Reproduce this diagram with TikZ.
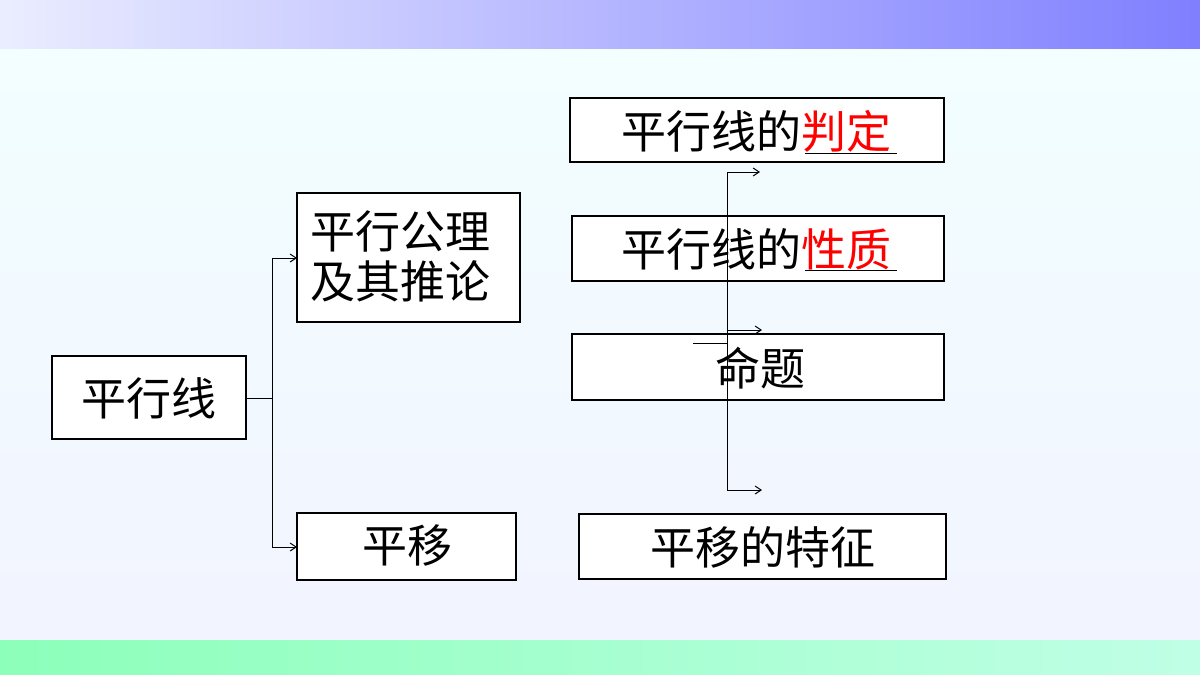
\documentclass[tikz,border=0pt]{standalone}
\usepackage{fontspec}
\setmainfont{Noto Sans CJK SC}
\begin{document}
\begin{tikzpicture}[x=1pt,y=-1pt,
 bx/.style={draw=black,line width=1.2pt,fill=white},
 tx/.style={font=\fontsize{45}{48}\selectfont,inner sep=0pt,anchor=center},
 ln/.style={line width=1pt},
 ar/.style={line width=1pt,-{Straight Barb[length=6pt,width=8pt]}}]
\usetikzlibrary{arrows.meta}
\useasboundingbox (0,0) rectangle (1200,675);
\fill[top color=cyan!5!white,bottom color=cyan!12!blue!5] (0,0) rectangle (1200,675);
\shade[left color=cyan!10!blue!8,right color=blue!50] (0,0) rectangle (1200,48);
\shade[left color=green!60!cyan!45,right color=green!40!cyan!25] (0,640) rectangle (1200,675);
% boxes
\draw[bx] (52,356) rectangle (246,439); \node[tx] (a) at (149,398) {平行线};
\draw[bx] (297,193) rectangle (520,322);
\node[tx,align=left] (b) at (400,256) {平行公理\\[2pt]及其推论};
\draw[bx] (297,513) rectangle (516,580); \node[tx] (c) at (407,545) {平移};
\draw[bx] (570,98) rectangle (944,162);
\node[tx] (d) at (756,131) {平行线的\textcolor{red}{判定}};
\draw[bx] (572,216) rectangle (944,281);
\node[tx] (e) at (756,249) {平行线的\textcolor{red}{性质}};
\draw[bx] (572,334) rectangle (944,400); \node[tx] (f) at (760,368) {命题};
\draw[bx] (579,514) rectangle (946,579); \node[tx] (g) at (763,547) {平移的特征};
\draw[line width=1pt] (805,153) -- (897,153);
\draw[line width=1pt] (805,270) -- (897,270);
% connectors
\coordinate (j) at (272,398);
\draw[ln] (246,398) -- (j);
\draw[ar] (272,258) |- (297,258);
\draw[ar] (272,258) -- (272,547) -- (297,547);
\draw[ar] (727,490) -- (727,172) -- (760,172);
\draw[ar] (727,330) -- (762,330);
\draw[ar] (727,490) -- (762,490);
\draw[ln] (693,343) -- (727,343);
\end{tikzpicture}
\end{document}
